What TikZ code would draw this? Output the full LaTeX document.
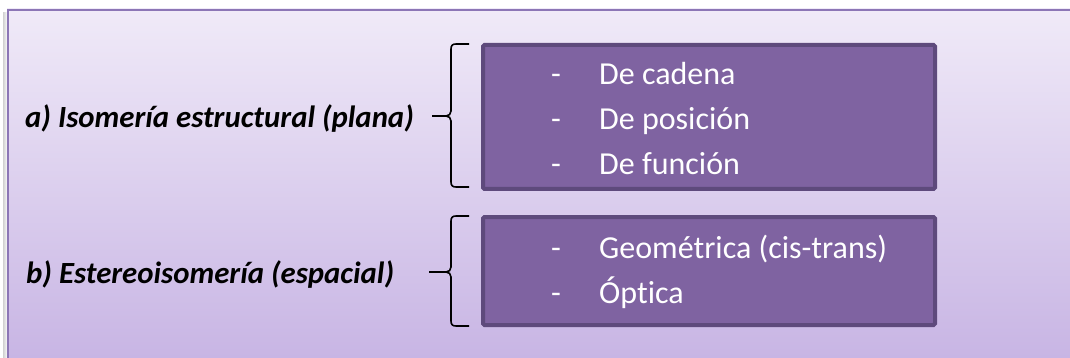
\documentclass[tikz,border=0pt]{standalone}
\usepackage{fontspec}
\setmainfont[Ligatures=NoCommon]{Carlito}
\definecolor{bgtop}{RGB}{240,234,248}
\definecolor{bgbot}{RGB}{200,181,228}
\definecolor{frame}{RGB}{140,118,182}
\definecolor{boxfill}{RGB}{127,99,161}
\definecolor{boxline}{RGB}{94,74,124}
\tikzset{
  itembox/.style={draw=boxline, fill=boxfill, line width=4pt, rounded corners=1.5pt},
  headtext/.style={anchor=base west, inner sep=0pt, font=\fontsize{30.8}{36}\selectfont\bfseries\itshape},
  itemtext/.style={anchor=base west, inner sep=0pt, text=white, font=\fontsize{32}{38}\selectfont},
  bracestroke/.style={draw=black, line width=1.6pt, line join=round}
}
\begin{document}
\begin{tikzpicture}[x=1pt,y=-1pt]
\useasboundingbox (0,0) rectangle (1070,358);
\fill[white] (0,0) rectangle (1070,358);
% soft shadow along the left edge of the panel
\foreach \dx/\op in {1/0.06,2/0.10,3/0.14,4/0.18}
  \fill[black,opacity=\op] (7-\dx,12) rectangle (8-\dx,358);
% panel with vertical gradient
\shade[top color=bgtop, bottom color=bgbot] (7,9) rectangle (1070,358);
\draw[frame, line width=2pt] (8,358) -- (8,10) -- (1070,10);

% item boxes
\node[itembox, minimum width=452pt, minimum height=144pt, anchor=north west, inner sep=0pt] (box1) at (481,43) {};
\node[itembox, minimum width=452pt, minimum height=108pt, anchor=north west, inner sep=0pt] (box2) at (481,215) {};

% headings
\node[headtext] (heada) at (25,128) {a) Isomería estructural (plana)};
\node[headtext] (headb) at (26,283) {b) Estereoisomería (espacial)};

% first group of items
\foreach \y/\t [count=\i] in {85/De cadena,130/De posición,175/De función}{
  \node[itemtext] (dasha\i) at (551,\y) {-};
  \node[itemtext] (itema\i) at (599,\y) {\t};
}
% second group of items
\foreach \y/\t [count=\i] in {258/Geométrica (cis-trans),303/Óptica}{
  \node[itemtext] (dashb\i) at (551,\y) {-};
  \node[itemtext] (itemb\i) at (599,\y) {\t};
}

% braces joining each heading to its box
\coordinate (tipa) at (432,116);
\coordinate (tipb) at (429,272);
\draw[bracestroke] (469,44) -- (456,44) .. controls (452.5,44) and (451,45.5) .. (451,49)
  -- (451,111) .. controls (451,114) and (449,116) .. (446,116) -- (tipa);
\draw[bracestroke] (446,116) .. controls (449,116) and (451,118) .. (451,121)
  -- (451,182) .. controls (451,185.5) and (452.5,187) .. (456,187) -- (469,187);
\draw[bracestroke] (469,216) -- (456,216) .. controls (452.5,216) and (451,217.5) .. (451,221)
  -- (451,267) .. controls (451,270) and (449,272) .. (446,272) -- (tipb);
\draw[bracestroke] (446,272) .. controls (449,272) and (451,274) .. (451,277)
  -- (451,321) .. controls (451,324.5) and (452.5,326) .. (456,326) -- (469,326);
\end{tikzpicture}
\end{document}
